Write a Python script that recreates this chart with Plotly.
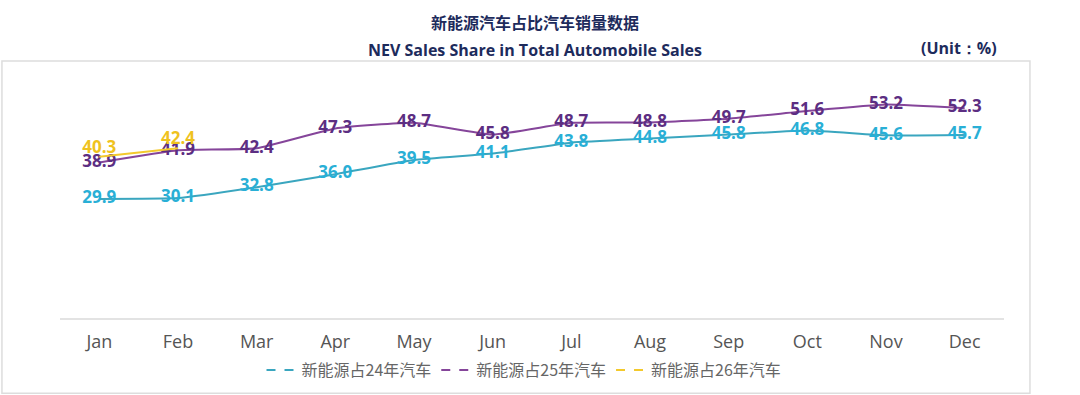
import plotly.graph_objects as go

months = ["Jan", "Feb", "Mar", "Apr", "May", "Jun", "Jul", "Aug", "Sep", "Oct", "Nov", "Dec"]
share_24 = [29.9, 30.1, 32.8, 36.0, 39.5, 41.1, 43.8, 44.8, 45.8, 46.8, 45.6, 45.7]
share_25 = [38.9, 41.9, 42.4, 47.3, 48.7, 45.8, 48.7, 48.8, 49.7, 51.6, 53.2, 52.3]
share_26 = [40.3, 42.4]
names = ["新能源占24年汽车", "新能源占25年汽车", "新能源占26年汽车"]

line_cols = ["#3aa6bf", "#85459a", "#f3c92c"]
text_cols = ["#29afd6", "#5c2e82", "#efc21e"]

fig = go.Figure()
series = [share_24, share_25, share_26]
for i, vals in enumerate(series):
    fig.add_trace(go.Scatter(
        x=months[:len(vals)], y=vals, mode="lines+text",
        text=[f"{v:.1f}" for v in vals],
        textposition="top center" if i == 2 else "middle center",
        textfont=dict(family="Open Sans", size=17, color=text_cols[i], weight="bold"),
        line=dict(color=line_cols[i], width=2, shape="spline", smoothing=0.4),
        showlegend=False, cliponaxis=False, hoverinfo="skip",
    ))
for i in range(3):
    fig.add_trace(go.Scatter(
        x=[None], y=[None], mode="lines", name=names[i],
        line=dict(color=line_cols[i], width=2, dash="dash"),
    ))

fig.update_layout(
    width=1080, height=395,
    margin=dict(l=60, r=76, t=75, b=77, autoexpand=False),
    paper_bgcolor="white", plot_bgcolor="white",
    xaxis=dict(type="category", range=[-0.5, 11.5], showgrid=False, showline=True,
               linecolor="#e3e3e3", linewidth=2, ticks="",
               tickfont=dict(family="Open Sans", size=18, color="#555555"), ticklabelstandoff=6),
    yaxis=dict(range=[0.5, 60.5], visible=False),
    legend=dict(orientation="h", x=(524 - 60) / 944, xanchor="center", y=-0.214, yanchor="middle",
                font=dict(family="Noto Sans CJK SC", size=16, color="#666666"),
                itemwidth=30, tracegroupgap=0),
    shapes=[dict(type="rect", xref="paper", yref="paper", x0=-0.0615, x1=1.0275, y0=-0.31, y1=1.0576,
                 line=dict(color="#dddddd", width=1.5), layer="below")],
    annotations=[
        dict(text="新能源汽车占比汽车销量数据", xref="paper", yref="paper", x=(535 - 60) / 944,
             y=(318 - 22) / 243, xanchor="center", yanchor="middle", showarrow=False,
             font=dict(family="Noto Sans CJK SC", size=16, color="#1d2b5c", weight="bold")),
        dict(text="NEV Sales Share in Total Automobile Sales", xref="paper", yref="paper",
             x=(535 - 60) / 944, y=(318 - 50) / 243, xanchor="center", yanchor="middle", showarrow=False,
             font=dict(family="Open Sans", size=16, color="#1d2b5c", weight="bold")),
        dict(text="(Unit：%)", xref="paper", yref="paper", x=(959 - 60) / 944, y=(318 - 48) / 243,
             xanchor="center", yanchor="middle", showarrow=False,
             font=dict(family="Open Sans", size=16, color="#1d2b5c", weight="bold")),
    ],
)
fig.write_html("out.html", config={"displayModeBar": False},
               post_script="document.body.style.margin='0px';")
